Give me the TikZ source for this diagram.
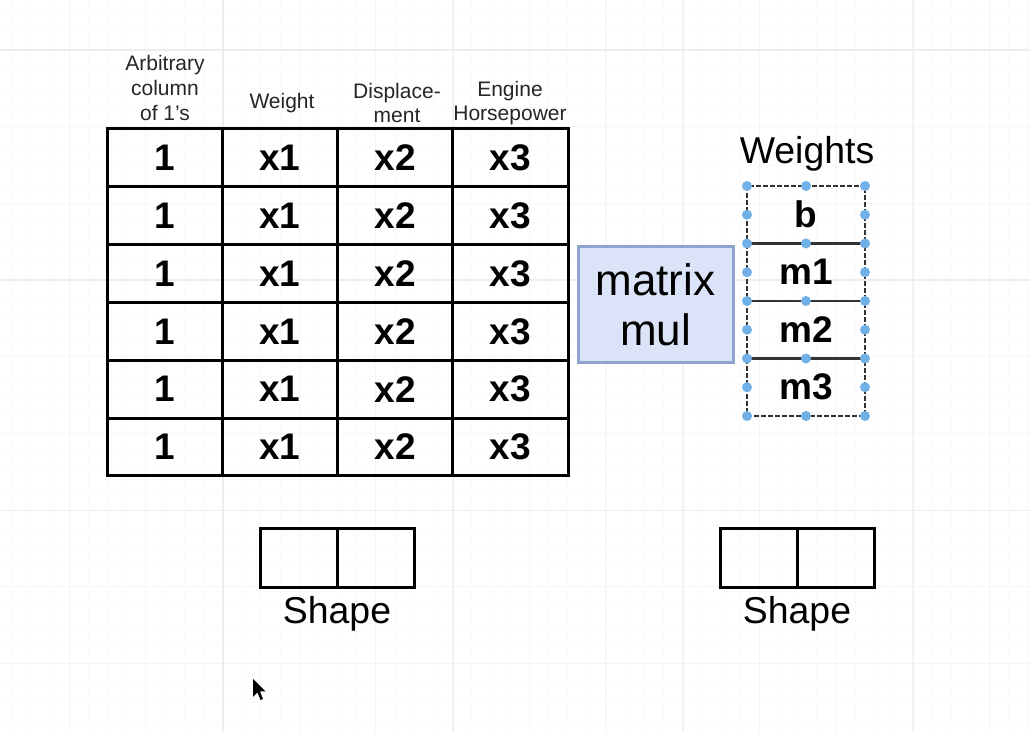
\documentclass[tikz,border=0pt]{standalone}
\usepackage{fontspec}
\setmainfont{Liberation Sans}
\definecolor{mulfill}{RGB}{218,227,247}
\definecolor{muldraw}{RGB}{143,163,207}
\definecolor{hdlblue}{RGB}{112,176,230}
\tikzset{
  tcell/.style={draw,line width=1.5pt,minimum width=57.6pt,minimum height=28.9pt,inner sep=0pt,outer sep=0pt,font=\bfseries\fontsize{18.5}{20}\selectfont},
  wcell/.style={draw=black!80,dash pattern=on 2.5pt off 1pt,line width=1.2pt,minimum width=59pt,minimum height=28.75pt,inner sep=0pt,outer sep=0pt,font=\bfseries\fontsize{18.5}{20}\selectfont},
  scell/.style={draw,line width=1.5pt,minimum width=38.5pt,minimum height=29.5pt,inner sep=0pt,outer sep=0pt},
  head/.style={align=center,inner sep=0pt,text=black!85,font=\fontsize{10.5}{12.3}\selectfont},
  big/.style={inner sep=0pt,font=\fontsize{18.7}{21}\selectfont},
  mulbox/.style={draw=muldraw,fill=mulfill,line width=1.5pt,minimum width=77.5pt,minimum height=58pt,align=center,inner sep=0pt,font=\fontsize{22}{25}\selectfont},
  minorln/.style={draw=black!2,line width=0.4pt},
  midln/.style={draw=black!4,line width=0.5pt},
  majorln/.style={draw=black!7,line width=0.6pt}
}
\newcommand{\trow}[2]{\node[tcell] (#2a) at (164.6,#1) {1}; \node[tcell] (#2b) at (279.9,#1) {x1};
  \node[tcell] (#2c) at (395.1,#1) {x2}; \node[tcell] (#2d) at (510.4,#1) {x3};}
\newcommand{\hdl}[2]{\fill[hdlblue] (#1,#2) circle (2.5pt);}

\begin{document}
\begin{tikzpicture}[x=0.5pt,y=-0.5pt]
	\useasboundingbox[fill=white] (0,0) rectangle (1030,732);
	\foreach \i in {0,...,53} \draw[minorln] (11.5+\i*19.175,0) -- (11.5+\i*19.175,732);
	\foreach \i in {0,...,37} \draw[minorln] (0,11.65+\i*19.175) -- (1030,11.65+\i*19.175);
	\foreach \i in {0,...,12} \draw[midln] (69+\i*76.7,0) -- (69+\i*76.7,732);
	\foreach \i in {0,...,8} \draw[midln] (0,50+\i*76.7) -- (1030,50+\i*76.7);
	\foreach \i in {0,...,3} \draw[majorln] (223+\i*230.1,0) -- (223+\i*230.1,732);
	\foreach \i in {0,...,2} \draw[majorln] (0,50+\i*230.1) -- (1030,50+\i*230.1);
	\node[head] (harb) at (165,88) {Arbitrary\\column\\of 1's};
	\node[head] (hwt) at (282,103) {Weight};
	\node[head] (hdisp) at (397,103) {Displace-\\ment};
	\node[head] (heng) at (510,103) {Engine\\Horsepower};
	\trow{157.9}{r1} \trow{215.7}{r2} \trow{273.6}{r3}
	\trow{331.4}{r4} \trow{389.2}{r5} \trow{447}{r6}
	\node[mulbox] (mul) at (655.5,305) {matrix\\mul};
	\node[big] (wlabel) at (807,154) {Weights};
	\def\x{806}
	\node[wcell] (wb) at (\x,214.75) {b}; \node[wcell] (wm1) at (\x,272.25) {m1};
	\node[wcell] (wm2) at (\x,329.75) {m2}; \node[wcell] (wm3) at (\x,387.25) {m3};
	\foreach \y in {186,214.75,...,417} {\hdl{747}{\y} \hdl{865}{\y}}
	\foreach \y in {186,243.5,...,417} {\hdl{\x}{\y}}
	\node[scell] (sa1) at (298.5,558.5) {}; \node[scell] (sa2) at (375.5,558.5) {};
	\node[big] (sha) at (337,614) {Shape};
	\node[scell] (sb1) at (758.75,558.5) {}; \node[scell] (sb2) at (836.25,558.5) {};
	\node[big] (shb) at (797,614) {Shape};
	\fill (253,679) -- (253,697) -- (257.5,692.5) -- (260.5,700) -- (263,699) -- (260,691.5) -- (265.5,691.5) -- cycle;
\end{tikzpicture}
\end{document}
